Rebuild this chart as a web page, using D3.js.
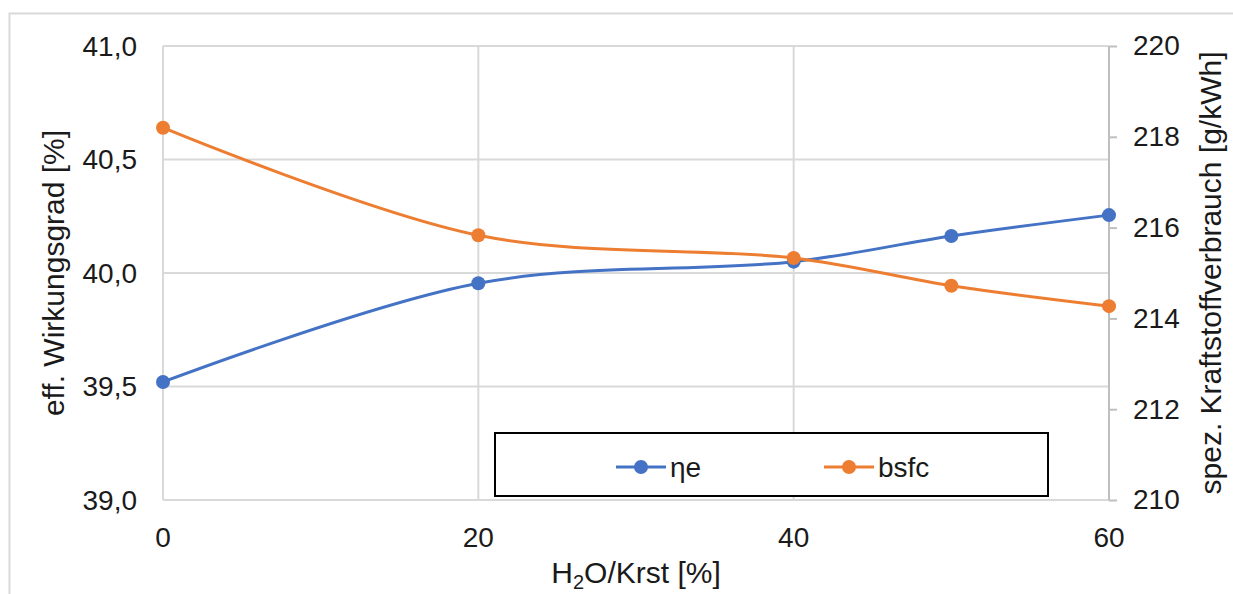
<!DOCTYPE html>
<html>
<head>
<meta charset="utf-8">
<script src="https://cdn.jsdelivr.net/npm/d3@7"></script>
<style>
  html, body { margin: 0; padding: 0; background: #fff; }
  svg { display: block; font-family: "Liberation Sans", Arial, sans-serif; }
</style>
</head>
<body>
<svg id="chart" width="1233" height="594"></svg>
<script>
// Water-to-fuel ratio [%]
const ratio = [0, 20, 40, 50, 60];
// Effective efficiency ηe [%]
const efficiency = [39.52, 39.955, 40.05, 40.163, 40.255];
// Brake specific fuel consumption [g/kWh]
const bsfc = [218.2, 215.83, 215.33, 214.72, 214.27];

const xTicks = [0, 20, 40, 60];
const leftTicks = [39.0, 39.5, 40.0, 40.5, 41.0];
const rightTicks = [210, 212, 214, 216, 218, 220];

const svg = d3.select("#chart");
const blue = "#4472C4", orange = "#ED7D31", grid = "#d9d9d9", axisGrey = "#bfbfbf", ink = "#1a1a1a";
const tickFont = 28, titleFont = 30;

const m = { left: 163, right: 1109, top: 46, bottom: 500 };

const x = d3.scaleLinear().domain([0, 60]).range([m.left, m.right]);
const yL = d3.scaleLinear().domain([39, 41]).range([m.bottom, m.top]);
const yR = d3.scaleLinear().domain([210, 220]).range([m.bottom, m.top]);

// chart frame
svg.append("rect").attr("x", 9.5).attr("y", 13.5).attr("width", 1240).attr("height", 600)
  .attr("fill", "none").attr("stroke", grid).attr("stroke-width", 2);

// gridlines
svg.append("g").selectAll("line").data(leftTicks).join("line")
  .attr("x1", m.left).attr("x2", m.right)
  .attr("y1", d => yL(d)).attr("y2", d => yL(d))
  .attr("stroke", grid).attr("stroke-width", 2);
svg.append("g").selectAll("line").data(xTicks).join("line")
  .attr("x1", d => x(d)).attr("x2", d => x(d))
  .attr("y1", m.top).attr("y2", m.bottom)
  .attr("stroke", grid).attr("stroke-width", 2);

// left axis labels
const fmt = d3.format(".1f");
svg.append("g").selectAll("text").data(leftTicks).join("text")
  .attr("x", 137).attr("y", d => yL(d)).attr("dy", "0.35em")
  .attr("text-anchor", "end").attr("font-size", tickFont).attr("fill", ink)
  .text(d => fmt(d).replace(".", ","));

// bottom axis labels
svg.append("g").selectAll("text").data(xTicks).join("text")
  .attr("x", d => x(d)).attr("y", 537).attr("dy", "0.35em")
  .attr("text-anchor", "middle").attr("font-size", tickFont).attr("fill", ink)
  .text(d => d);

// right axis: line, outward ticks, labels
const rightAxis = d3.axisRight(yR).tickValues(rightTicks).tickSize(8).tickPadding(16);
const gR = svg.append("g").attr("transform", `translate(${m.right},0)`).call(rightAxis);
gR.select(".domain").attr("stroke", axisGrey).attr("stroke-width", 2).attr("d", `M0,${m.top}V${m.bottom}`);
gR.selectAll(".tick line").attr("stroke", axisGrey).attr("stroke-width", 2);
gR.selectAll(".tick text").attr("font-size", tickFont).attr("fill", ink)
  .attr("font-family", "Liberation Sans, Arial, sans-serif");

// axis titles
svg.append("text").attr("transform", `translate(64,${(m.top + m.bottom) / 2}) rotate(-90)`)
  .attr("text-anchor", "middle").attr("font-size", titleFont).attr("fill", ink)
  .text("eff. Wirkungsgrad [%]");
svg.append("text").attr("transform", `translate(1221,${(m.top + m.bottom) / 2}) rotate(-90)`)
  .attr("text-anchor", "middle").attr("font-size", titleFont).attr("fill", ink)
  .text("spez. Kraftstoffverbrauch [g/kWh]");
const xt = svg.append("text").attr("x", 636).attr("y", 583)
  .attr("text-anchor", "middle").attr("font-size", titleFont).attr("fill", ink);
xt.append("tspan").text("H");
xt.append("tspan").attr("font-size", 20).attr("dy", 6).text("2");
xt.append("tspan").attr("dy", -6).text("O/Krst [%]");

// series
const series = [
  { name: "ηe", values: efficiency, y: yL, color: blue },
  { name: "bsfc", values: bsfc, y: yR, color: orange }
];

series.forEach(s => {
  const pts = ratio.map((r, i) => [x(r), s.y(s.values[i])]);
  svg.append("path").datum(pts)
    .attr("d", d3.line().curve(d3.curveCatmullRom.alpha(0.5)))
    .attr("fill", "none").attr("stroke", s.color).attr("stroke-width", 3);
  svg.append("g").selectAll("circle").data(pts).join("circle")
    .attr("cx", d => d[0]).attr("cy", d => d[1]).attr("r", 7)
    .attr("fill", s.color);
});

// legend
svg.append("rect").attr("x", 495).attr("y", 433).attr("width", 553).attr("height", 63)
  .attr("fill", "#fff").attr("stroke", "#000").attr("stroke-width", 2);
const legendX = [616, 824];
series.forEach((s, i) => {
  const g = svg.append("g").attr("transform", `translate(${legendX[i]},467)`);
  g.append("line").attr("x1", 0).attr("x2", 50).attr("stroke", s.color).attr("stroke-width", 3);
  g.append("circle").attr("cx", 25).attr("r", 7).attr("fill", s.color);
  g.append("text").attr("x", 54).attr("dy", "0.35em").attr("font-size", tickFont).attr("fill", ink).text(s.name);
});
</script>
</body>
</html>
